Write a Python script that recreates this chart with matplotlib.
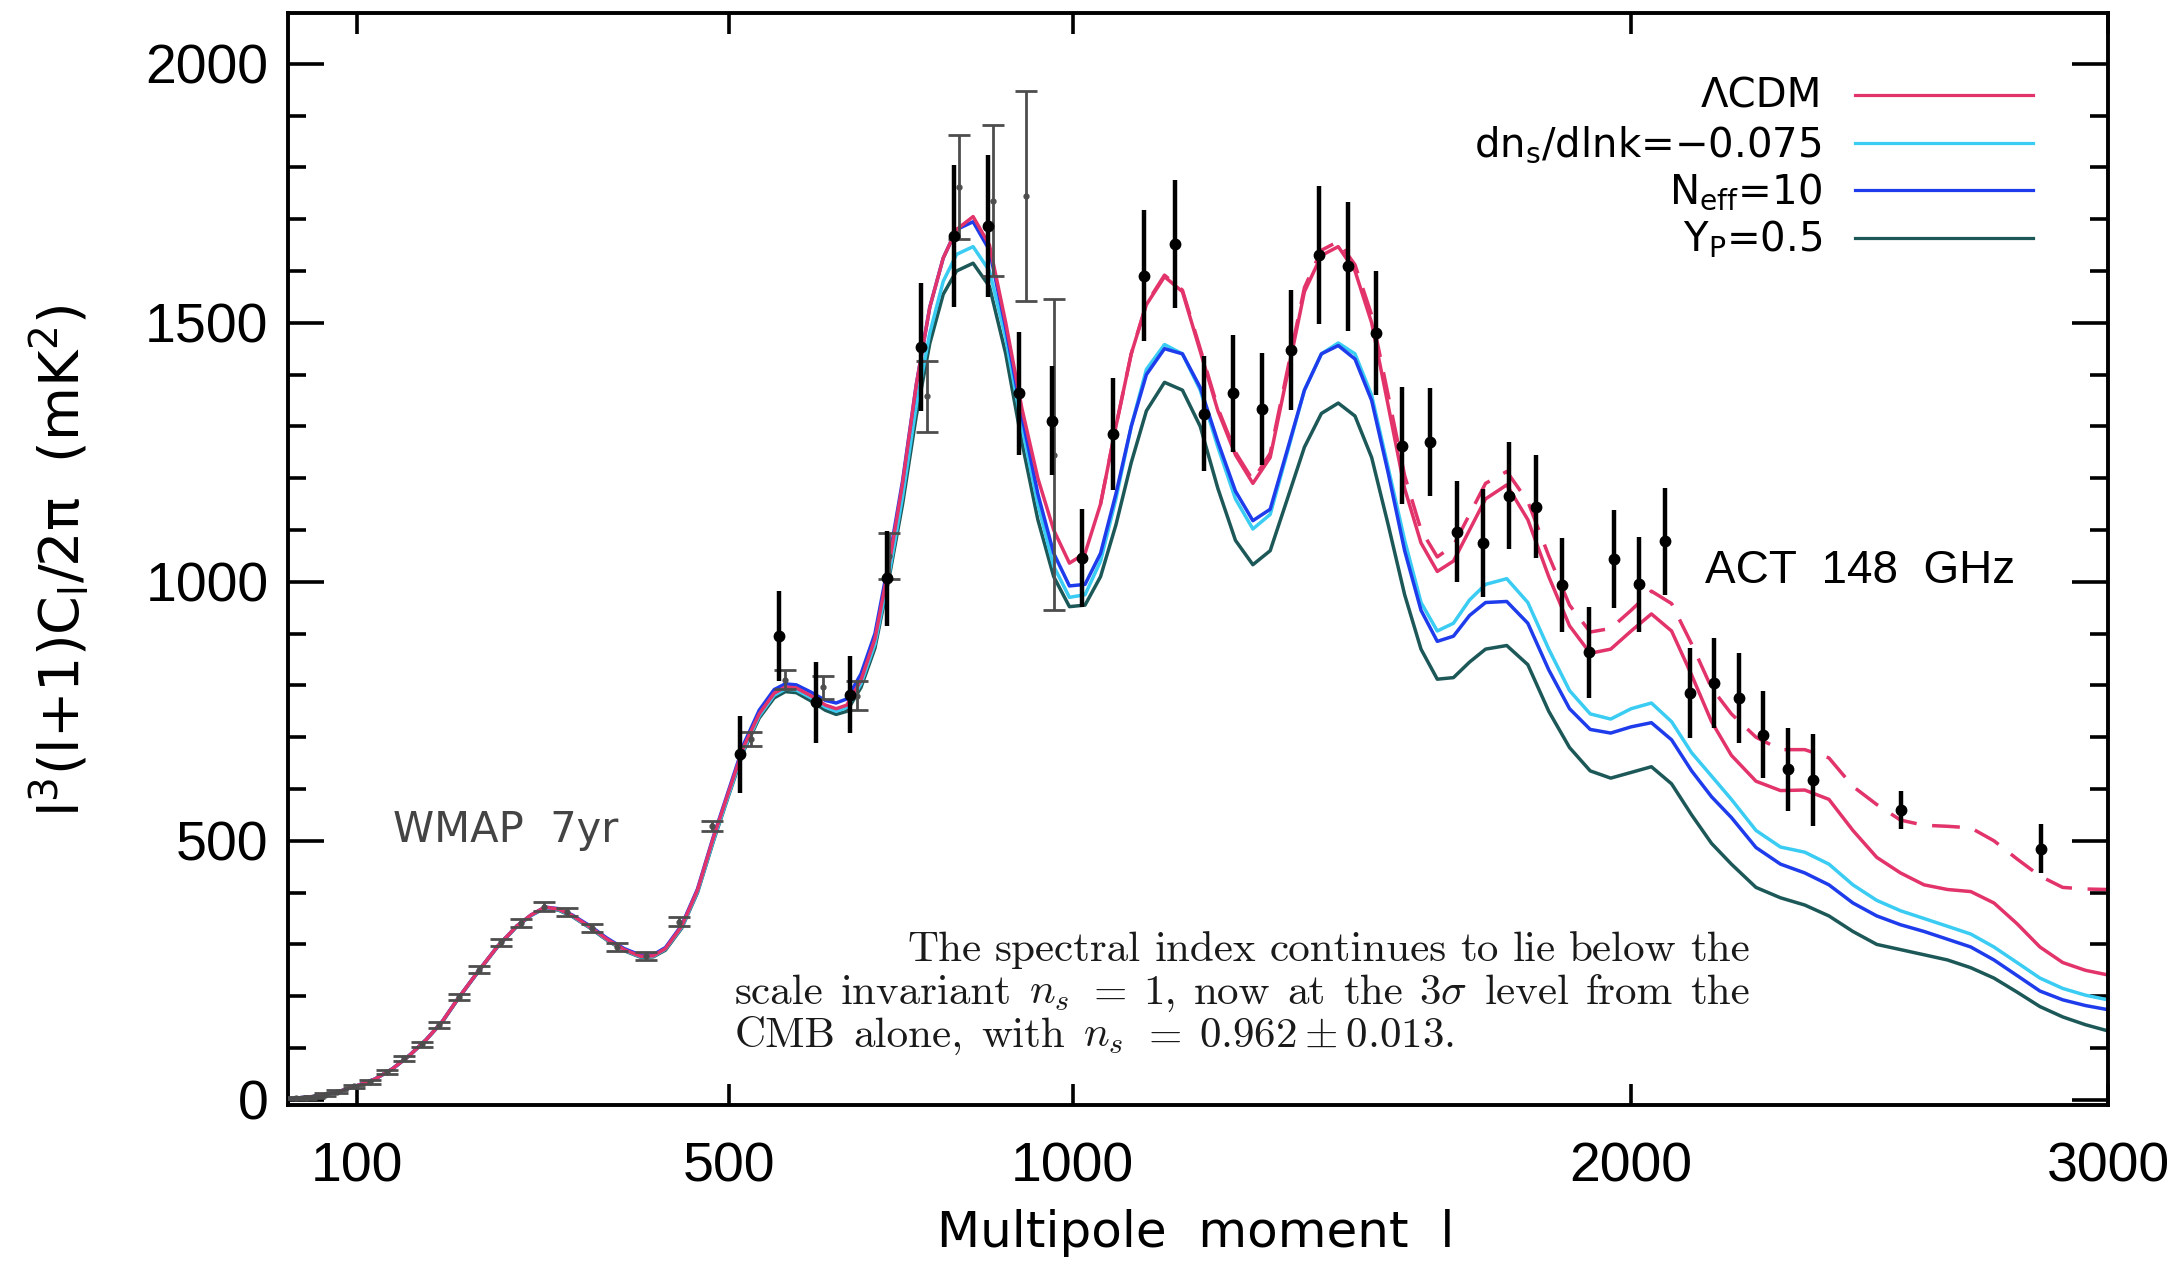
import numpy as np
import matplotlib
matplotlib.use('Agg')
import matplotlib.pyplot as plt
from matplotlib.ticker import FixedLocator, MultipleLocator, NullLocator
from matplotlib.lines import Line2D

plt.rcParams['font.family'] = ['Liberation Sans', 'DejaVu Sans']
plt.rcParams['mathtext.fontset'] = 'custom'
plt.rcParams['mathtext.rm'] = 'Liberation Sans'
plt.rcParams['mathtext.it'] = 'Liberation Sans:italic'
plt.rcParams['mathtext.bf'] = 'Liberation Sans:bold'
plt.rcParams['mathtext.sf'] = 'Liberation Sans'
plt.rcParams['mathtext.default'] = 'rm'

# ---------------- data ----------------
ell_model = [50, 70, 85, 100, 115, 130, 145, 160, 175, 190,
             210, 230, 250, 265, 280, 295, 310, 330, 350, 370,
             390, 405, 420, 440, 460, 480, 500, 520, 540, 560,
             575, 590, 610, 630, 645, 660, 680, 700, 720, 740,
             760, 780, 800, 820, 845, 870, 895, 920, 945, 970,
             995, 1020, 1045, 1070, 1095, 1120, 1150, 1180, 1210, 1240,
             1270, 1300, 1330, 1360, 1390, 1420, 1450, 1480, 1510, 1540,
             1570, 1600, 1630, 1660, 1690, 1720, 1760, 1800, 1840, 1880,
             1920, 1960, 2000, 2040, 2080, 2120, 2160, 2200, 2250, 2300,
             2350, 2400, 2450, 2500, 2550, 2600, 2650, 2700, 2750, 2800,
             2850, 2900, 2950, 3000]

lcdm = [2, 7, 15, 27, 40, 60, 86, 116, 151, 195,
        248, 297, 336, 357, 372, 368, 356, 334, 310, 290,
        277, 278, 292, 335, 405, 505, 595, 683, 745, 785,
        797, 795, 780, 762, 755, 762, 810, 890, 1030, 1190,
        1380, 1530, 1625, 1680, 1705, 1650, 1500, 1335, 1200, 1100,
        1036, 1055, 1150, 1300, 1440, 1535, 1589, 1560, 1445, 1330,
        1245, 1190, 1240, 1400, 1560, 1630, 1647, 1600, 1500, 1340,
        1180, 1075, 1020, 1040, 1100, 1160, 1187, 1120, 1010, 915,
        862, 870, 905, 938, 905, 820, 730, 665, 615, 597,
        598, 580, 520, 468, 438, 415, 406, 402, 380, 340,
        295, 265, 250, 241]

running = [2, 7, 15, 27, 40, 60, 86, 116, 151, 195,
           248, 297, 336, 356, 371, 367, 355, 333, 309, 289,
           276, 277, 291, 333, 402, 500, 590, 678, 741, 781,
           793, 791, 776, 758, 750, 757, 803, 880, 1012, 1165,
           1340, 1480, 1580, 1632, 1647, 1600, 1470, 1300, 1150, 1030,
           970, 975, 1040, 1160, 1300, 1410, 1458, 1440, 1370, 1260,
           1160, 1102, 1130, 1250, 1370, 1440, 1461, 1440, 1360, 1220,
           1080, 960, 905, 920, 965, 995, 1006, 960, 870, 790,
           745, 735, 755, 766, 730, 670, 625, 580, 520, 488,
           478, 455, 415, 385, 365, 350, 335, 320, 295, 265,
           235, 215, 202, 193]

neff = [2, 7, 15, 27, 40, 60, 86, 116, 151, 195,
        248, 297, 336, 357, 372, 369, 357, 336, 312, 292,
        279, 280, 294, 337, 407, 507, 598, 688, 752, 792,
        803, 801, 787, 771, 766, 774, 822, 900, 1040, 1195,
        1380, 1530, 1625, 1680, 1695, 1640, 1490, 1320, 1170, 1055,
        992, 995, 1055, 1170, 1300, 1400, 1450, 1440, 1375, 1270,
        1175, 1118, 1140, 1255, 1370, 1440, 1456, 1430, 1350, 1210,
        1060, 945, 885, 895, 935, 960, 962, 920, 830, 755,
        715, 708, 720, 728, 695, 635, 585, 545, 487, 455,
        438, 415, 380, 355, 338, 325, 310, 295, 270, 240,
        210, 193, 182, 174]

yp = [2, 7, 15, 27, 40, 60, 86, 116, 150, 194,
      247, 296, 335, 356, 370, 366, 354, 332, 308, 288,
      275, 276, 289, 331, 400, 498, 588, 675, 737, 776,
      788, 786, 770, 752, 744, 750, 796, 872, 1005, 1150,
      1320, 1460, 1555, 1600, 1615, 1570, 1440, 1270, 1120, 1010,
      952, 955, 1010, 1110, 1230, 1330, 1385, 1370, 1300, 1180,
      1080, 1033, 1060, 1160, 1260, 1325, 1345, 1320, 1240, 1110,
      975, 870, 812, 815, 845, 870, 877, 840, 750, 680,
      635, 621, 632, 643, 610, 550, 495, 455, 410, 390,
      376, 355, 325, 300, 290, 280, 270, 255, 235, 208,
      180, 160, 145, 133]

ell_dash = [1045, 1070, 1095, 1120, 1150, 1180, 1210, 1240, 1270, 1300,
            1330, 1360, 1390, 1420, 1450, 1480, 1510, 1540, 1570, 1600,
            1630, 1660, 1690, 1720, 1760, 1800, 1840, 1880, 1920, 1960,
            2000, 2040, 2080, 2120, 2160, 2200, 2250, 2300, 2350, 2400,
            2450, 2500, 2550, 2600, 2650, 2700, 2750, 2800, 2850, 2900,
            2950, 3000]
lcdm_fg = [1150, 1300, 1440, 1537, 1592, 1563, 1450, 1335, 1250, 1196,
           1248, 1408, 1568, 1640, 1657, 1612, 1515, 1360, 1205, 1100,
           1048, 1070, 1130, 1190, 1213, 1155, 1050, 955, 903, 910,
           945, 982, 958, 880, 795, 745, 700, 676, 676, 660,
           605, 570, 540, 530, 528, 525, 500, 465, 432, 410,
           407, 406]

wmap_l = [55, 62, 68, 76, 85, 98, 111, 125, 140, 156, 172, 191, 211, 233, 254, 279,
          304, 333, 362, 396, 437, 479, 529, 575, 626, 675, 720, 776, 824, 875, 926, 971]
wmap_v = [3, 4, 6, 10, 16, 26, 35, 53, 80, 107, 145, 199, 251, 304, 342, 373,
          362, 331, 295, 278, 344, 528, 697, 811, 796, 780, 1050, 1358, 1762, 1736, 1745, 1245]
wmap_e = [2, 2, 2, 3, 3, 3, 4, 4, 5, 5, 6, 6, 7, 7, 8, 8,
          8, 8, 8, 8, 9, 10, 14, 18, 22, 28, 45, 68, 101, 146, 203, 300]

act_l = [515, 566, 617, 665, 717, 767, 816, 867, 915, 968, 1015, 1066, 1116, 1167,
         1217, 1266, 1315, 1367, 1416, 1467, 1518, 1566, 1617, 1666, 1716, 1764,
         1815, 1866, 1917, 1966, 2015, 2066, 2117, 2164, 2215, 2264, 2315, 2366,
         2552, 2853]
act_v = [667, 896, 767, 782, 1007, 1453, 1668, 1687, 1364, 1311, 1046, 1285, 1591, 1652,
         1324, 1364, 1333, 1448, 1631, 1609, 1480, 1263, 1270, 1097, 1075, 1166,
         1145, 994, 864, 1044, 995, 1078, 785, 804, 775, 705, 638, 618,
         560, 485]
act_e = [74, 87, 78, 74, 92, 124, 137, 137, 119, 105, 95, 108, 127, 124,
         111, 113, 108, 116, 134, 124, 119, 113, 105, 98, 105, 103,
         100, 91, 88, 94, 92, 103, 87, 87, 87, 84, 80, 89,
         37, 47]

xticks = [100, 500, 1000, 2000, 3000]
xtick_labels = ['100', '500', '1000', '2000', '3000']

labels = ['ΛCDM', 'dn$_s$/dlnk=−0.075', 'N$_{eff}$=10', 'Y$_P$=0.5']
colors = ['#E2336B', '#3ACCF2', '#1E3CEB', '#1D5858']

# ---------------- figure ----------------
W, H = 2184, 1262
fig = plt.figure(figsize=(W / 100, H / 100), dpi=100)
ax = fig.add_axes([288 / W, 1 - 1105 / H, (2108 - 288) / W, (1105 - 13) / H])


def fwd(x):
    x = np.asarray(x, dtype=float)
    return np.sign(x) * np.abs(x) ** 0.7


def inv(y):
    y = np.asarray(y, dtype=float)
    return np.sign(y) * np.abs(y) ** (1 / 0.7)


ax.set_xscale('function', functions=(fwd, inv))

lw = 2.5
ax.plot(ell_model, yp, color=colors[3], lw=lw, zorder=2.0)
ax.plot(ell_model, running, color=colors[1], lw=lw, zorder=2.1)
ax.plot(ell_model, neff, color=colors[2], lw=lw, zorder=2.2)
ax.plot(ell_model, lcdm, color=colors[0], lw=lw, zorder=2.3)
ax.plot(ell_dash, lcdm_fg, color=colors[0], lw=lw, ls=(0, (8, 4.5)), zorder=2.35)

ax.errorbar(wmap_l, wmap_v, yerr=wmap_e, fmt='o', ms=3.5, color='#4d4d4d',
            ecolor='#4d4d4d', elinewidth=2.0, capsize=8, capthick=2.0, zorder=3)
ax.errorbar(act_l, act_v, yerr=act_e, fmt='o', ms=7.5, color='black',
            ecolor='black', elinewidth=3.2, capsize=0, zorder=4)

ax.set_xlim(50, 3000)
ax.set_ylim(-10, 2098)

ax.xaxis.set_major_locator(FixedLocator(xticks))
ax.xaxis.set_minor_locator(NullLocator())
ax.set_xticklabels(xtick_labels)
ax.yaxis.set_major_locator(MultipleLocator(500))
ax.yaxis.set_minor_locator(MultipleLocator(100))

for s in ax.spines.values():
    s.set_linewidth(2.8)
ax.tick_params(which='both', direction='in', top=True, right=True, width=2.6,
               labelsize=40)
ax.tick_params(axis='x', which='major', length=15, pad=26)
ax.tick_params(axis='y', which='major', length=26, pad=14)
ax.tick_params(axis='y', which='minor', length=13)

# axis labels
fig.text(1196 / W, 1 - 1247 / H, 'Multipole  moment  l', ha='center', va='baseline',
         fontsize=36, family='DejaVu Sans')
fig.text(60 / W, 1 - 561 / H, r'l$^3$(l+1)C$_l$/2π  (mK$^2$)', rotation=90,
         ha='center', va='center', fontsize=40, family='DejaVu Sans',
         math_fontfamily='dejavusans')

# legend (drawn by hand, right aligned labels, line samples to the right)
leg_y = [95, 143, 190, 238]
for lab, col, yy in zip(labels, colors, leg_y):
    fig.text(1822 / W, 1 - (yy + 13) / H, lab, ha='right', va='baseline', fontsize=29,
             family='DejaVu Sans', math_fontfamily='dejavusans')
    fig.add_artist(Line2D([1855 / W, 2033 / W], [1 - yy / H, 1 - yy / H],
                          transform=fig.transFigure, color=col, lw=2.3))

# annotations
fig.text(393 / W, 1 - 842 / H, 'WMAP  7yr', ha='left', va='baseline', fontsize=30,
         color='#444444', family='DejaVu Sans')
fig.text(1705 / W, 1 - 583 / H, 'ACT  148  GHz', ha='left', va='baseline', fontsize=33,
         color='black')

# justified serif paragraph
para = [
    (['The', 'spectral', 'index', 'continues', 'to', 'lie', 'below', 'the'], 907, 1750, 961),
    (['scale', 'invariant', r'$\mathit{n_s}$', '$=$', '1,', 'now', 'at', 'the', r'$3\sigma$',
      'level', 'from', 'the'], 735, 1750, 1004),
    (['CMB', 'alone,', 'with', r'$\mathit{n_s}$', '$=$', r'$0.962\pm0.013$.'], 735, 1454, 1047),
]
fig.canvas.draw()
rend = fig.canvas.get_renderer()
for words, x0, x1, yb in para:
    arts = [fig.text(0, 1 - yb / H, w, ha='left', va='baseline', fontsize=31,
                     family='cmr10', math_fontfamily='cm', color='#1a1a1a') for w in words]
    widths = [a.get_window_extent(rend).width for a in arts]
    gap = (x1 - x0 - sum(widths)) / (len(words) - 1)
    x = x0
    for a, wd in zip(arts, widths):
        a.set_x(x / W)
        x += wd + gap

fig.savefig('out.png', dpi=100)
